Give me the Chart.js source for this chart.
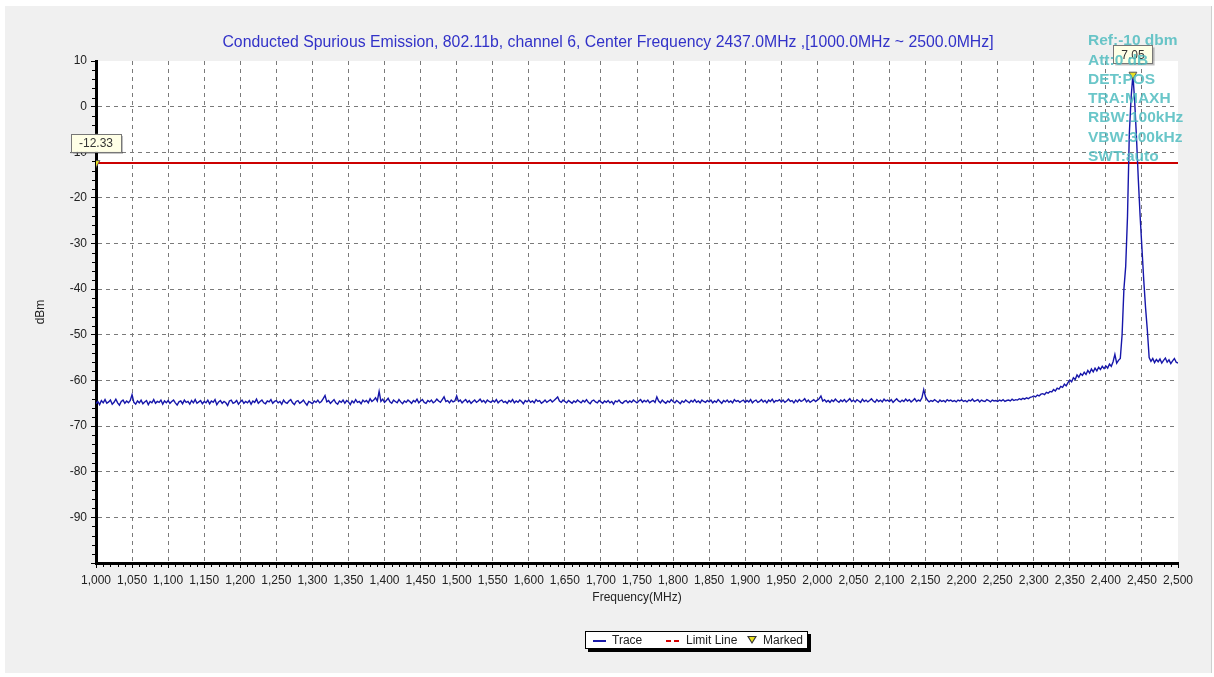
<!DOCTYPE html>
<html>
<head>
<meta charset="utf-8">
<script src="https://cdn.jsdelivr.net/npm/chart.js@4.4.0/dist/chart.umd.min.js"></script>
<style>
  html, body { margin: 0; padding: 0; background: #fff; }
  body { width: 1214px; height: 677px; position: relative; overflow: hidden; font-family: 'Liberation Sans', Arial, sans-serif; }
  #frame { position: absolute; left: 5px; top: 6px; width: 1206px; height: 667px; background: #f0f0f0; border-right: 1px solid #cfcfcf; }
  #chart { position: absolute; left: 0; top: 0; }
  #legend { position: absolute; left: 585px; top: 631px; width: 221px; height: 16px; background: #fff; border: 1px solid #000; box-shadow: 3px 3px 0 #000; font-size: 12px; color: #222; }
  #legend span { position: absolute; top: 1px; line-height: 14px; }
  #legend .trace { position: absolute; left: 7px; top: 8px; width: 13px; height: 2px; background: #1a1aa8; }
  #legend .limit { position: absolute; left: 80px; top: 8px; width: 15px; height: 2px; background: repeating-linear-gradient(90deg, #d40000 0 5px, transparent 5px 8px); }
  #legend .mark { position: absolute; left: 161px; top: 4px; width: 0; height: 0; border-left: 5px solid transparent; border-right: 5px solid transparent; border-top: 8px solid #333; }
  #legend .mark i { position: absolute; left: -3px; top: -7px; width: 0; height: 0; border-left: 3px solid transparent; border-right: 3px solid transparent; border-top: 5px solid #e8e020; }
</style>
</head>
<body>
<div id="frame"></div>
<canvas id="chart" width="1214" height="677"></canvas>
<div id="legend">
  <div class="trace"></div><span style="left:26px">Trace</span>
  <div class="limit"></div><span style="left:100px">Limit Line</span>
  <div class="mark"><i></i></div><span style="left:177px">Marked</span>
</div>
<script>
// sweep settings (frequency of each trace sample = sweepStart + i * sweepStep)
const sweepStart = 1000;
const sweepStep = 2.5;

// trace values in dBm, one row = 50 MHz
const traceDbm = [
  -65.1,-64.6,-65.3,-64.4,-64.9,-64.2,-65.0,-64.7,-64.3,-65.2,-64.8,-64.1,-64.9,-65.4,-64.6,-64.3,-65.0,-64.5,-64.9,-64.4,
  -63.1,-64.8,-65.2,-64.5,-64.9,-64.3,-65.1,-64.7,-64.4,-65.3,-64.6,-64.9,-64.2,-65.0,-64.6,-64.8,-64.3,-65.2,-64.5,-64.9,
  -64.4,-65.0,-64.6,-64.3,-64.9,-65.4,-64.7,-64.5,-65.1,-64.3,-64.8,-64.6,-65.2,-64.4,-64.9,-64.2,-65.0,-64.7,-64.4,-65.1,
  -64.6,-64.9,-64.3,-65.1,-64.5,-64.8,-64.2,-65.3,-64.7,-64.4,-65.0,-64.6,-64.9,-65.5,-64.5,-64.3,-65.0,-64.8,-64.4,-65.2,
  -64.7,-64.3,-65.0,-64.6,-64.9,-64.4,-65.2,-64.5,-64.8,-64.1,-65.0,-64.6,-64.3,-64.9,-65.1,-64.5,-64.7,-64.2,-65.0,-64.6,
  -64.4,-64.9,-64.6,-65.2,-64.3,-64.8,-65.0,-64.5,-64.2,-64.9,-65.3,-64.6,-64.4,-65.0,-64.7,-64.3,-64.9,-65.4,-64.6,-64.8,
  -65.1,-64.5,-64.8,-64.3,-64.9,-64.6,-64.0,-63.3,-64.7,-64.4,-65.0,-64.6,-64.2,-64.9,-65.2,-64.5,-64.8,-64.3,-65.0,-64.4,
  -64.7,-65.3,-64.5,-64.9,-64.2,-64.8,-64.6,-65.1,-64.3,-64.7,-64.4,-64.9,-64.0,-64.6,-64.3,-63.8,-64.5,-62.4,-64.6,-64.1,
  -64.8,-64.4,-63.9,-64.7,-65.0,-64.3,-64.6,-64.9,-64.2,-64.7,-65.1,-64.5,-64.8,-64.3,-64.6,-65.0,-64.4,-64.7,-64.1,-64.9,
  -64.5,-64.2,-64.8,-65.0,-64.4,-64.7,-64.3,-64.9,-64.6,-64.1,-64.5,-64.8,-64.2,-63.6,-64.6,-64.4,-64.9,-64.3,-64.7,-64.5,
  -63.4,-64.6,-64.3,-64.9,-64.5,-64.2,-64.8,-64.4,-65.0,-64.6,-64.3,-64.8,-64.5,-64.1,-64.7,-64.4,-64.9,-64.3,-64.6,-64.8,
  -64.4,-64.7,-64.2,-64.9,-64.5,-64.3,-64.8,-64.6,-65.0,-64.4,-64.7,-64.2,-64.9,-64.5,-64.8,-64.3,-64.6,-65.1,-64.4,-64.7,
  -64.3,-64.8,-64.5,-64.9,-64.2,-64.6,-64.4,-65.0,-64.7,-64.3,-64.8,-64.5,-64.2,-64.7,-64.4,-64.0,-63.6,-64.5,-64.8,-64.3,
  -64.6,-64.9,-64.4,-64.7,-65.0,-64.5,-64.8,-64.3,-64.6,-64.9,-64.4,-64.7,-64.2,-64.8,-65.1,-64.5,-64.3,-64.7,-64.9,-64.4,
  -64.7,-65.0,-64.5,-64.8,-64.4,-64.9,-64.6,-65.2,-64.5,-64.7,-64.3,-64.8,-65.0,-64.6,-64.4,-64.9,-64.5,-64.8,-64.3,-64.6,
  -64.9,-64.5,-64.2,-64.8,-64.4,-64.7,-64.3,-64.9,-64.6,-64.4,-64.8,-63.6,-64.5,-64.9,-64.3,-64.7,-65.0,-64.5,-64.8,-64.2,
  -64.6,-64.9,-64.4,-64.7,-65.1,-64.5,-64.8,-64.3,-64.6,-64.9,-64.4,-64.7,-64.2,-64.8,-64.5,-64.9,-64.3,-64.6,-64.8,-64.4,
  -64.7,-64.3,-64.9,-64.5,-64.8,-64.2,-64.6,-65.0,-64.4,-64.7,-64.3,-64.8,-64.5,-64.9,-64.2,-64.6,-64.4,-64.8,-64.5,-64.3,
  -64.8,-64.4,-64.7,-64.2,-64.9,-64.5,-64.3,-64.8,-64.6,-64.2,-64.7,-64.4,-64.9,-64.3,-64.6,-64.1,-64.8,-64.4,-64.5,-64.2,
  -64.7,-64.3,-64.8,-64.5,-64.1,-64.6,-64.4,-64.9,-64.3,-64.7,-64.2,-64.6,-64.4,-64.0,-64.7,-64.3,-64.8,-64.5,-64.2,-64.6,
  -64.3,-64.0,-63.4,-64.5,-64.2,-64.7,-64.4,-64.8,-64.3,-64.6,-64.1,-64.5,-64.8,-64.3,-64.6,-64.2,-64.7,-64.4,-64.0,-64.6,
  -64.3,-64.7,-64.2,-64.5,-64.8,-64.1,-64.6,-64.3,-64.7,-64.4,-64.0,-64.5,-64.8,-64.2,-64.6,-64.3,-64.7,-64.1,-64.5,-64.3,
  -64.6,-64.2,-64.8,-64.4,-64.0,-64.5,-64.7,-64.3,-64.6,-64.1,-64.5,-64.2,-64.7,-64.4,-64.0,-64.6,-64.3,-64.5,-63.8,-62.0,
  -63.6,-64.3,-64.7,-64.4,-64.6,-64.2,-64.5,-64.8,-64.3,-64.6,-64.4,-64.7,-64.2,-64.5,-64.3,-64.6,-64.4,-64.7,-64.3,-64.5,
  -64.2,-64.6,-64.4,-64.7,-64.3,-64.5,-64.1,-64.6,-64.4,-64.2,-64.7,-64.3,-64.5,-64.6,-64.2,-64.4,-64.7,-64.3,-64.5,-64.4,
  -64.6,-64.3,-64.5,-64.2,-64.6,-64.4,-64.3,-64.5,-64.1,-64.4,-64.2,-64.3,-64.0,-64.2,-63.9,-64.1,-63.8,-64.0,-63.7,-63.6,
  -63.4,-63.6,-63.2,-63.4,-63.0,-62.9,-63.1,-62.6,-62.8,-62.4,-62.5,-62.0,-62.3,-61.7,-61.9,-61.3,-61.5,-60.8,-61.2,-60.5,
  -59.9,-60.3,-59.4,-59.8,-58.8,-59.3,-58.5,-58.9,-58.2,-58.7,-57.8,-58.4,-57.5,-58.1,-57.3,-57.9,-57.1,-57.6,-56.9,-57.4,
  -56.8,-57.3,-56.4,-56.9,-55.9,-54.3,-56.2,-55.6,-55.2,-50.0,-40.0,-35.0,-24.0,-6.0,2.0,7.05,1.0,-7.0,-16.0,-24.0,
  -31.0,-38.0,-44.0,-49.0,-55.0,-55.8,-55.2,-56.1,-55.4,-55.9,-55.3,-56.2,-55.6,-55.1,-56.0,-55.5,-56.3,-55.7,-55.2,-56.0,
  -56.2
];

const limitFreq = [1000, 2500];
const limitDbm = [-12.33, -12.33];

const markerFreq = [1000, 2437.5];
const markerDbm = [-12.33, 7.05];
const markerLabels = ['-12.33', '7.05'];

const yTicks = [10, 0, -10, -20, -30, -40, -50, -60, -70, -80, -90, -100];
const xTickStep = 50;

const titleText = 'Conducted Spurious Emission, 802.11b, channel 6, Center Frequency 2437.0MHz ,[1000.0MHz ~ 2500.0MHz]';
const infoLines = ['Ref:-10 dbm', 'Att:0 dB', 'DET:POS', 'TRA:MAXH', 'RBW:100kHz', 'VBW:300kHz', 'SWT:auto'];

const FONT = "'Liberation Sans', Arial, sans-serif";

const traceData = traceDbm.map((v, i) => ({ x: sweepStart + i * sweepStep, y: v }));
const limitData = limitFreq.map((f, i) => ({ x: f, y: limitDbm[i] }));
const markerData = markerFreq.map((f, i) => ({ x: f, y: markerDbm[i] }));

// white plot area, title, minor ticks, marker boxes, setting text
const plotDecor = {
    id: 'plotDecor',
    beforeDraw(chart) {
        const a = chart.chartArea;
        const ctx = chart.ctx;
        ctx.save();
        ctx.fillStyle = '#fff';
        ctx.fillRect(a.left, a.top, a.right - a.left, a.bottom - a.top);
        // title, centred on the window like the original
        ctx.font = '15.8px ' + FONT;
        ctx.fillStyle = '#3232c8';
        ctx.textAlign = 'center';
        ctx.textBaseline = 'middle';
        ctx.fillText(titleText, 608, 43);
        ctx.restore();
    },
    afterDraw(chart) {
        const ctx = chart.ctx;
        const a = chart.chartArea;
        const xs = chart.scales.x, ys = chart.scales.y;
        ctx.save();
        ctx.strokeStyle = '#000';
        ctx.lineWidth = 1;
        ctx.beginPath();
        for (let f = xs.min; f <= xs.max; f += 10) {
            if (f % xTickStep === 0) continue;
            const px = Math.round(xs.getPixelForValue(f)) + 0.5;
            ctx.moveTo(px, a.bottom + 1);
            ctx.lineTo(px, a.bottom + 4);
        }
        for (let v = ys.min; v <= ys.max; v += 2) {
            if (v % 10 === 0) continue;
            const py = Math.round(ys.getPixelForValue(v)) + 0.5;
            ctx.moveTo(a.left - 4, py);
            ctx.lineTo(a.left - 1, py);
        }
        ctx.stroke();

        // marker value boxes
        const meta = chart.getDatasetMeta(2);
        ctx.font = '12px ' + FONT;
        ctx.textAlign = 'center';
        ctx.textBaseline = 'middle';
        meta.data.forEach((pt, i) => {
            const txt = markerLabels[i];
            const w = ctx.measureText(txt).width + 16;
            const h = 18;
            const cx = pt.x, cy = pt.y - 20;
            ctx.fillStyle = 'rgba(0,0,0,0.25)';
            ctx.fillRect(cx - w / 2 + 2, cy - h / 2 + 2, w, h);
            ctx.fillStyle = '#ffffe6';
            ctx.fillRect(cx - w / 2, cy - h / 2, w, h);
            ctx.strokeStyle = '#777';
            ctx.strokeRect(Math.round(cx - w / 2) + 0.5, Math.round(cy - h / 2) + 0.5, Math.round(w), h);
            ctx.fillStyle = '#333';
            ctx.fillText(txt, cx, cy + 1);
        });

        // analyzer settings text
        ctx.font = 'bold 15.5px ' + FONT;
        ctx.textAlign = 'left';
        ctx.fillStyle = 'rgba(80,188,192,0.85)';
        infoLines.forEach((s, i) => {
            ctx.fillText(s, 1088, 41 + i * 19.3);
        });
        ctx.restore();
    }
};

const canvas = document.getElementById('chart');
const chart = new Chart(canvas, {
    type: 'line',
    data: {
        datasets: [
            {
                label: 'Trace',
                data: traceData,
                borderColor: '#1616aa',
                borderWidth: 1.4,
                pointRadius: 0,
                tension: 0,
                order: 2
            },
            {
                label: 'Limit Line',
                data: limitData,
                borderColor: '#cc0000',
                borderWidth: 2,
                pointRadius: 0,
                order: 3
            },
            {
                label: 'Marked',
                data: markerData,
                showLine: false,
                pointStyle: 'triangle',
                rotation: 180,
                pointRadius: 4.5,
                backgroundColor: '#e8e020',
                borderColor: '#555',
                borderWidth: 1,
                order: 1
            }
        ]
    },
    options: {
        responsive: false,
        animation: false,
        events: [],
        layout: { padding: { left: 5, right: 36, top: 61, bottom: 72 } },
        plugins: {
            legend: { display: false },
            tooltip: { enabled: false },
            title: { display: false }
        },
        scales: {
            x: {
                type: 'linear',
                min: 1000,
                max: 2500,
                afterFit(scale) { scale.height = 42; },
                ticks: {
                    stepSize: xTickStep,
                    autoSkip: false,
                    maxRotation: 0,
                    padding: 5,
                    color: '#222',
                    font: { family: FONT, size: 12 },
                    callback: (v) => v.toLocaleString('en-US')
                },
                grid: {
                    color: (c) => (c.tick && (c.tick.value === 2500 || c.tick.value === 1000)) ? 'rgba(0,0,0,0)' : '#7a7a7a',
                    lineWidth: 1,
                    tickLength: 5,
                    tickColor: '#000',
                    tickWidth: 1
                },
                border: { color: '#000', width: 3, dash: [4, 4] },
                title: {
                    display: true,
                    text: 'Frequency(MHz)',
                    color: '#222',
                    font: { family: FONT, size: 12 },
                    padding: { top: 2, bottom: 0 }
                }
            },
            y: {
                min: -100,
                max: 10,
                afterFit(scale) { scale.width = 91; },
                afterBuildTicks(scale) { scale.ticks = yTicks.map(v => ({ value: v })); },
                ticks: {
                    padding: 4,
                    color: '#222',
                    font: { family: FONT, size: 12 },
                    callback: (v) => v === -100 ? '' : String(v)
                },
                grid: {
                    color: (c) => (c.tick && (c.tick.value === 10 || c.tick.value === -100)) ? 'rgba(0,0,0,0)' : '#7a7a7a',
                    lineWidth: 1,
                    tickLength: 5,
                    tickColor: '#000',
                    tickWidth: 1
                },
                border: { color: '#000', width: 3, dash: [4, 4] },
                title: {
                    display: true,
                    text: 'dBm',
                    color: '#222',
                    font: { family: FONT, size: 12 },
                    padding: { top: 28, bottom: 0 }
                }
            }
        }
    },
    plugins: [plotDecor]
});
</script>
</body>
</html>
